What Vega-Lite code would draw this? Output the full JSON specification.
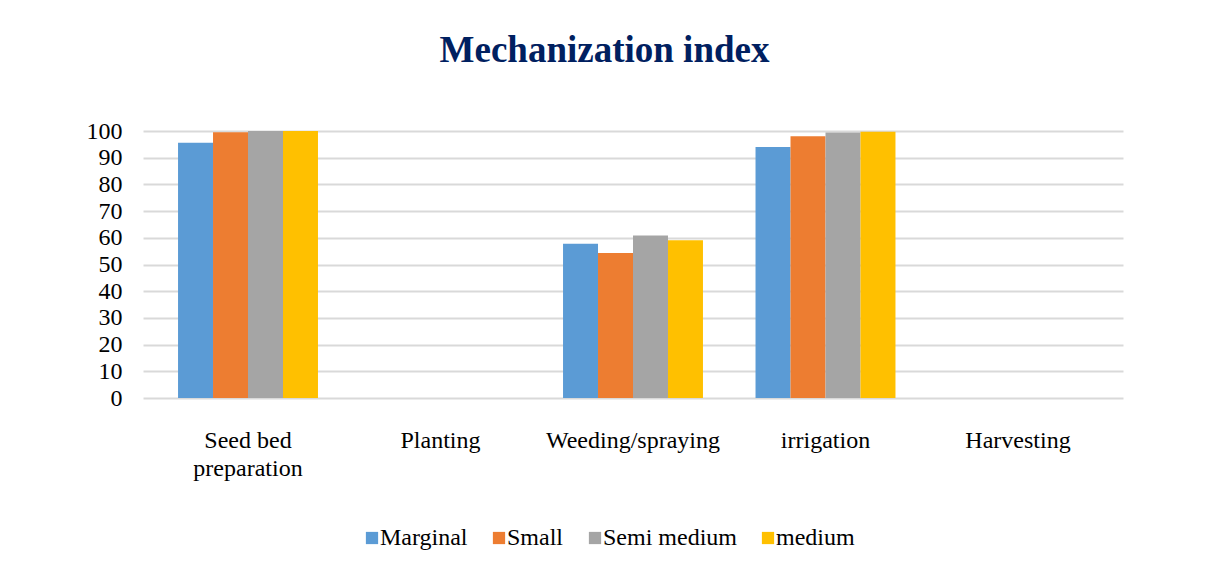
{
  "$schema": "https://vega.github.io/schema/vega-lite/v6.json",
  "autosize": "none",
  "width": 980,
  "height": 267,
  "padding": {"left": 143, "top": 131, "right": 88, "bottom": 171},
  "background": "white",
  "title": {
    "text": "Mechanization index",
    "font": "Liberation Serif",
    "fontSize": 37,
    "fontWeight": "bold",
    "color": "#002060",
    "anchor": "middle",
    "frame": "bounds",
    "offset": 49
  },
  "data": {
    "values": [
      {"activity": "Seed bed preparation", "size": "Marginal", "value": 95.6},
      {"activity": "Seed bed preparation", "size": "Small", "value": 99.5},
      {"activity": "Seed bed preparation", "size": "Semi medium", "value": 100},
      {"activity": "Seed bed preparation", "size": "medium", "value": 100},
      {"activity": "Planting", "size": "Marginal", "value": 0},
      {"activity": "Planting", "size": "Small", "value": 0},
      {"activity": "Planting", "size": "Semi medium", "value": 0},
      {"activity": "Planting", "size": "medium", "value": 0},
      {"activity": "Weeding/spraying", "size": "Marginal", "value": 57.8},
      {"activity": "Weeding/spraying", "size": "Small", "value": 54.3},
      {"activity": "Weeding/spraying", "size": "Semi medium", "value": 60.9},
      {"activity": "Weeding/spraying", "size": "medium", "value": 59.1},
      {"activity": "irrigation", "size": "Marginal", "value": 94},
      {"activity": "irrigation", "size": "Small", "value": 98},
      {"activity": "irrigation", "size": "Semi medium", "value": 99.4},
      {"activity": "irrigation", "size": "medium", "value": 99.7},
      {"activity": "Harvesting", "size": "Marginal", "value": 0},
      {"activity": "Harvesting", "size": "Small", "value": 0},
      {"activity": "Harvesting", "size": "Semi medium", "value": 0},
      {"activity": "Harvesting", "size": "medium", "value": 0}
    ]
  },
  "mark": {"type": "bar"},
  "encoding": {
    "x": {
      "field": "activity",
      "type": "nominal",
      "sort": null,
      "title": null,
      "scale": {"paddingInner": 0.273, "paddingOuter": 0.182},
      "axis": {
        "labelAngle": 0,
        "domain": false,
        "ticks": false,
        "labelPadding": 30,
        "labelFont": "Liberation Serif",
        "labelFontSize": 24,
        "labelColor": "#000000",
        "labelExpr": "datum.label == 'Seed bed preparation' ? ['Seed bed', 'preparation'] : datum.label",
        "labelLineHeight": 28
      }
    },
    "xOffset": {
      "field": "size",
      "type": "nominal",
      "sort": ["Marginal", "Small", "Semi medium", "medium"]
    },
    "y": {
      "field": "value",
      "type": "quantitative",
      "title": null,
      "scale": {"domain": [0, 100]},
      "axis": {
        "values": [0, 10, 20, 30, 40, 50, 60, 70, 80, 90, 100],
        "domain": false,
        "ticks": false,
        "labelPadding": 21,
        "labelFont": "Liberation Serif",
        "labelFontSize": 24,
        "labelColor": "#000000",
        "gridColor": "#d9d9d9",
        "gridWidth": 2
      }
    },
    "color": {
      "field": "size",
      "type": "nominal",
      "sort": ["Marginal", "Small", "Semi medium", "medium"],
      "scale": {
        "domain": ["Marginal", "Small", "Semi medium", "medium"],
        "range": ["#5B9BD5", "#ED7D31", "#A5A5A5", "#FFC000"]
      },
      "legend": {
        "title": null,
        "orient": "none",
        "legendX": 217,
        "legendY": 395,
        "direction": "horizontal",
        "symbolType": "square",
        "symbolSize": 150,
        "symbolStrokeWidth": 0,
        "labelFont": "Liberation Serif",
        "labelFontSize": 24,
        "labelColor": "#000000",
        "columnPadding": 19,
        "labelOffset": -4
      }
    }
  },
  "config": {
    "view": {"stroke": null}
  }
}
